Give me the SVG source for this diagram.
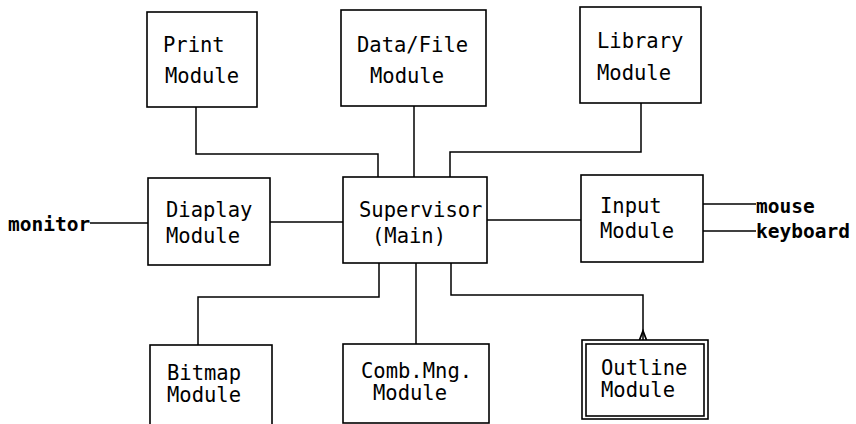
<svg xmlns="http://www.w3.org/2000/svg" width="856" height="424" viewBox="0 0 856 424">
  <style>
    .box { fill: #fff; stroke: #000; stroke-width: 1.6; }
    .wire { fill: none; stroke: #000; stroke-width: 1.5; }
    .lbl { font-family: "DejaVu Sans Mono", "Liberation Mono", monospace; font-size: 20.5px; fill: #000; }
    .io { font-family: "DejaVu Sans Mono", "Liberation Mono", monospace; font-size: 19.5px; font-weight: bold; fill: #000; }
  </style>
  <rect width="856" height="424" fill="#fff"/>

  <!-- connectors -->
  <g id="connectors" class="wire">
    <polyline points="196,107 196,154 378,154 378,177"/>
    <line x1="414" y1="106" x2="414" y2="177"/>
    <polyline points="641,103 641,152 450,152 450,177"/>
    <line x1="90" y1="223" x2="148" y2="223"/>
    <line x1="270" y1="222" x2="343" y2="222"/>
    <line x1="487" y1="220" x2="581" y2="220"/>
    <line x1="703" y1="204" x2="756" y2="204"/>
    <line x1="703" y1="231" x2="756" y2="231"/>
    <polyline points="379,263 379,297 198,297 198,345"/>
    <line x1="416" y1="263" x2="416" y2="344"/>
    <polyline points="451,263 451,295 643,295 643,340"/>
    <!-- small caret where the link meets the Outline box -->
    <path d="M639.5,340 L643,331 L646.5,340" stroke-width="1.8"/>
  </g>

  <!-- nodes -->
  <g id="print">
    <rect class="box" x="147" y="12" width="110" height="95"/>
    <text class="lbl" x="163" y="52">Print</text>
    <text class="lbl" x="165" y="83">Module</text>
  </g>
  <g id="datafile">
    <rect class="box" x="341" y="10" width="145" height="96"/>
    <text class="lbl" x="357" y="52">Data/File</text>
    <text class="lbl" x="370" y="83">Module</text>
  </g>
  <g id="library">
    <rect class="box" x="580" y="7" width="121" height="96"/>
    <text class="lbl" x="597" y="48">Library</text>
    <text class="lbl" x="597" y="80">Module</text>
  </g>
  <g id="display">
    <rect class="box" x="148" y="178" width="122" height="87"/>
    <text class="lbl" x="166" y="217">Diaplay</text>
    <text class="lbl" x="166" y="243">Module</text>
  </g>
  <g id="supervisor">
    <rect class="box" x="343" y="177" width="144" height="86"/>
    <text class="lbl" x="359" y="217">Supervisor</text>
    <text class="lbl" x="372" y="243">(Main)</text>
  </g>
  <g id="input">
    <rect class="box" x="581" y="175" width="122" height="87"/>
    <text class="lbl" x="600" y="213">Input</text>
    <text class="lbl" x="600" y="238">Module</text>
  </g>
  <g id="bitmap">
    <rect class="box" x="150" y="345" width="122" height="80"/>
    <text class="lbl" x="167" y="380">Bitmap</text>
    <text class="lbl" x="167" y="402">Module</text>
  </g>
  <g id="combmng">
    <rect class="box" x="343" y="344" width="146" height="79"/>
    <text class="lbl" x="361" y="378">Comb.Mng.</text>
    <text class="lbl" x="373" y="400">Module</text>
  </g>
  <g id="outline">
    <rect class="box" x="582" y="340" width="126" height="79"/>
    <rect class="box" x="586" y="344" width="118" height="72"/>
    <text class="lbl" x="601" y="375">Outline</text>
    <text class="lbl" x="601" y="397">Module</text>
  </g>

  <!-- external devices -->
  <g id="monitor">
    <text class="io" x="8" y="231">monitor</text>
  </g>
  <g id="mouse">
    <text class="io" x="756" y="213">mouse</text>
  </g>
  <g id="keyboard">
    <text class="io" x="756" y="238">keyboard</text>
  </g>
</svg>
